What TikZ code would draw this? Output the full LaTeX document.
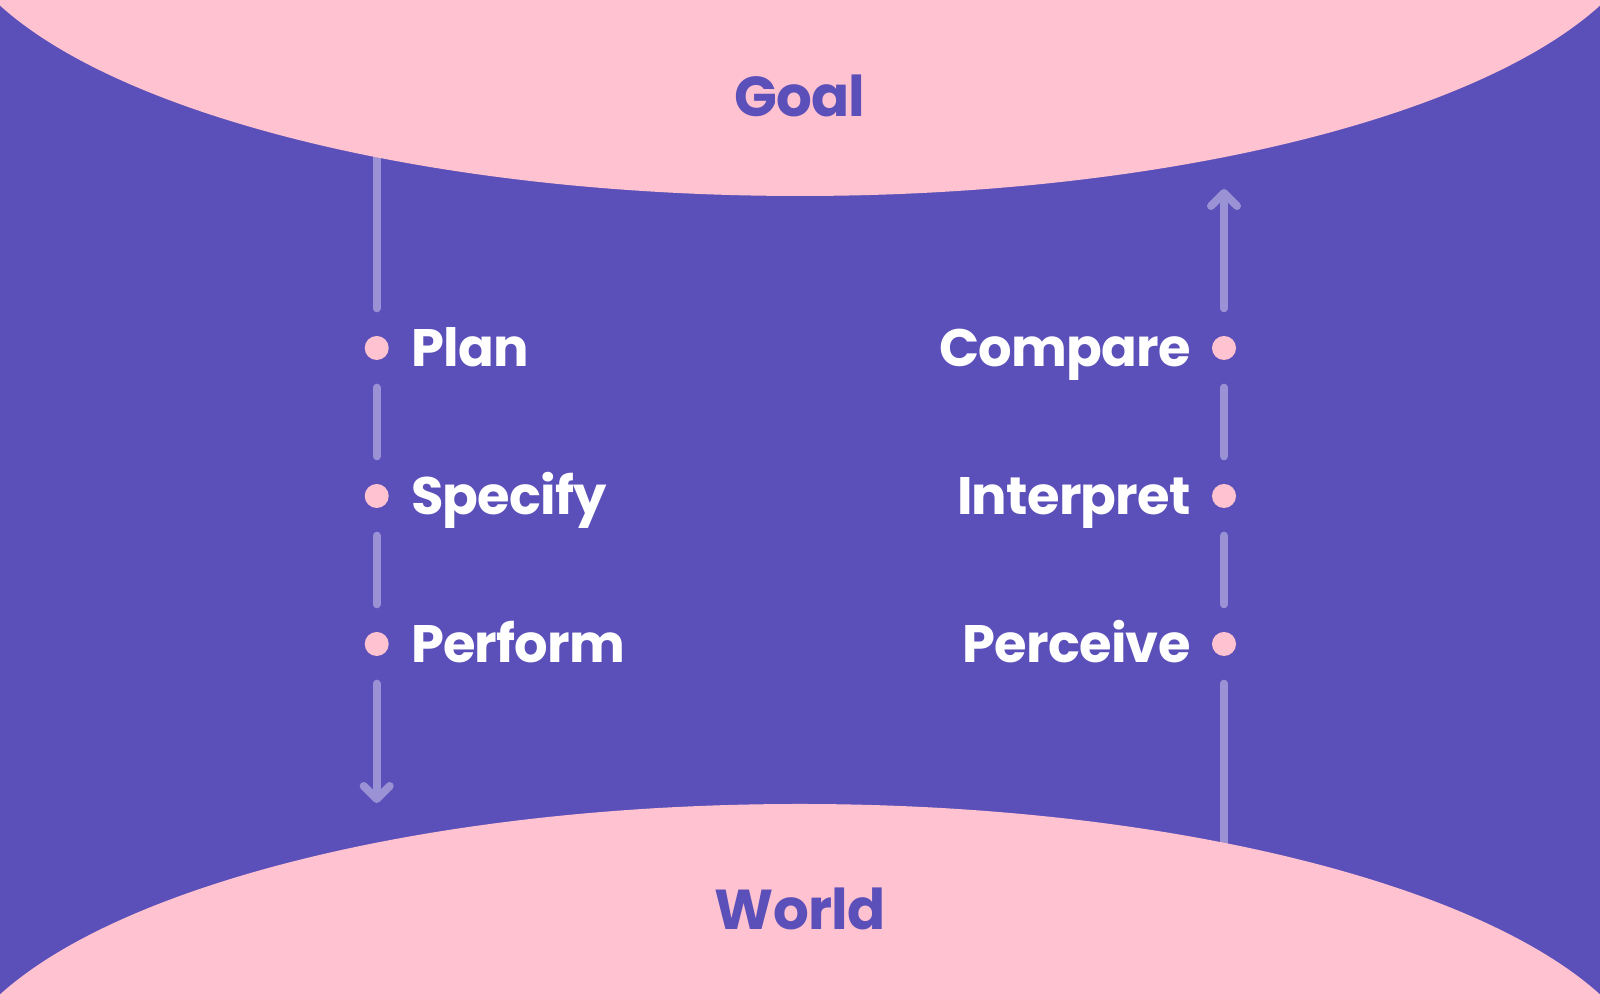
\documentclass[tikz,border=0pt]{standalone}
\usepackage{fontspec}
\setmainfont{Poppins}[LetterSpace=-1.5]
\usetikzlibrary{positioning,arrows.meta}
\definecolor{bgpurple}{HTML}{5B50B9}
\definecolor{blobpink}{HTML}{FFC2D0}
\definecolor{linelav}{HTML}{9B92D6}

\begin{document}
\begin{tikzpicture}
\tikzstyle{dot}=[circle,fill=blobpink,minimum size=0.24cm,inner sep=0pt]
\tikzstyle{lbl}=[text=white,font=\fontsize{15}{18}\selectfont\bfseries,inner sep=0pt,text height=0.38cm,text depth=0pt]
\tikzstyle{ttl}=[text=bgpurple,font=\fontsize{16}{19}\selectfont\bfseries,inner sep=0pt,text height=0.40cm,text depth=0pt]
\tikzstyle{link}=[linelav,line width=0.08cm,line cap=round,shorten <=0.27cm,shorten >=0.27cm]
\tikzstyle{arrowlink}=[-{Straight Barb[length=0.13cm,width=0.26cm,round]},shorten >=0pt]
\useasboundingbox (0,0) rectangle (16,10);
\clip (0,0) rectangle (16,10);
\fill [bgpurple] (0,0) rectangle (16,10);
% stages
\node [dot] (plan) at (3.767,6.52) {};
\node [dot] (specify) at (3.767,5.04) {};
\node [dot] (perform) at (3.767,3.56) {};
\node [dot] (compare) at (12.24,6.52) {};
\node [dot] (interpret) at (12.24,5.04) {};
\node [dot] (perceive) at (12.24,3.56) {};
\coordinate (goalL) at (3.767,9.2);
\coordinate (worldL) at (3.767,1.97);
\coordinate (goalR) at (12.24,8.11);
\coordinate (worldR) at (12.24,0.8);
% links
\draw [link,shorten <=0pt] (goalL) -- (plan);
\draw [link] (plan) -- (specify);
\draw [link] (specify) -- (perform);
\draw [link,arrowlink] (perform) -- (worldL);
\draw [link,shorten <=0pt] (worldR) -- (perceive);
\draw [link] (perceive) -- (interpret);
\draw [link] (interpret) -- (compare);
\draw [link,arrowlink] (compare) -- (goalR);
% goal and world
\fill [blobpink] (8,11) ellipse [x radius=8.56, y radius=2.96];
\fill [blobpink] (8,-1) ellipse [x radius=8.56, y radius=2.96];
\node [ttl] (goal) at (8,9.03) {Goal};
\node [ttl] (world) at (8,0.90) {World};
% labels
\node [lbl,right=0.21cm of plan] (planlbl) {Plan};
\node [lbl,right=0.21cm of specify] (specifylbl) {Specify};
\node [lbl,right=0.21cm of perform] (performlbl) {Perform};
\node [lbl,left=0.2cm of compare] (comparelbl) {Compare};
\node [lbl,left=0.2cm of interpret] (interpretlbl) {Interpret};
\node [lbl,left=0.2cm of perceive] (perceivelbl) {Perceive};
\end{tikzpicture}
\end{document}
